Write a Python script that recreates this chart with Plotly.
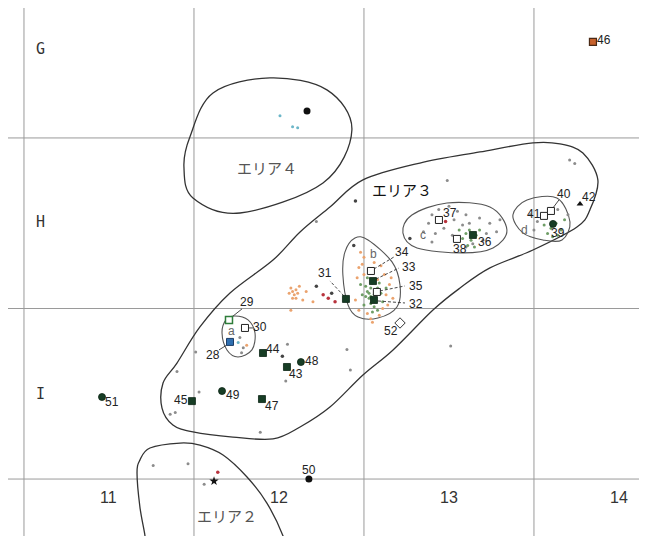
import plotly.graph_objects as go

# ---------------- data (grid units: 1 = one grid square) ----------------
X_RANGE = [-0.094, 3.665]
Y_RANGE = [-0.334, 2.762]

grid_x = [0, 1, 2, 3]
grid_y = [0, 1, 2]
col_labels = ["11", "12", "13", "14"]
col_label_x = [0.5, 1.5, 2.5, 3.5]
row_labels = ["G", "H", "I"]
row_label_y = [2.52, 1.51, 0.50]

# numbered finds
find_id = [28, 29, 30, 31, 32, 33, 34, 35, 36, 37, 38, 39, 40, 41, 42,
           43, 44, 45, 46, 47, 48, 49, 50, 51, 52]
find_x = [1.212, 1.206, 1.300, 1.894, 2.059, 2.053, 2.041, 2.076, 2.641, 2.441,
          2.547, 3.112, 3.100, 3.059, 3.271, 1.547, 1.406, 0.988, 3.347, 1.400,
          1.629, 1.165, 1.676, 0.459, 2.212]
find_y = [0.804, 0.933, 0.886, 1.056, 1.050, 1.161, 1.220, 1.097, 1.431, 1.519,
          1.408, 1.496, 1.572, 1.543, 1.613, 0.657, 0.739, 0.457, 2.563, 0.469,
          0.686, 0.516, 0.000, 0.481, 0.915]
find_kind = ["blue_sq", "green_open_sq", "open_sq", "sq", "sq", "sq", "open_sq", "open_sq",
             "sq", "open_sq", "open_sq", "circ", "open_sq", "open_sq", "tri",
             "sq", "sq", "sq", "orange_sq", "sq", "circ", "circ", "black_circ", "circ", "diamond"]

# unlabeled symbols
extra_x = [1.665, 1.118]
extra_y = [2.158, -0.012]
extra_kind = ["black_circ", "star"]

# small dots
orange_x = [1.57, 1.58, 1.60, 1.59, 1.61, 1.56, 1.60, 1.62, 1.58, 1.64, 1.66, 1.70, 1.57,
            1.97, 2.00, 1.96, 2.12, 2.15, 2.10, 1.95, 2.04, 2.02, 2.13, 2.17, 1.98, 2.06,
            2.16, 1.97, 2.09, 2.00, 2.14, 2.08, 2.11, 1.99, 2.05, 1.31]
orange_y = [1.12, 1.10, 1.11, 1.08, 1.09, 1.09, 1.06, 1.13, 1.06, 1.05, 1.10, 1.04, 0.99,
            1.24, 1.30, 1.18, 1.20, 1.14, 1.25, 1.05, 0.94, 0.97, 1.08, 1.06, 1.33, 1.27,
            1.18, 0.99, 0.96, 1.20, 1.02, 1.17, 1.00, 1.26, 0.92, 0.785]
green_x = [2.02, 2.04, 2.06, 2.03, 2.08, 2.05, 2.01, 2.07, 2.10, 2.04, 1.99, 2.09, 2.02,
           2.06, 2.11, 2.00, 2.03, 2.07, 1.98, 2.05, 2.13, 2.08, 2.01, 2.04,
           2.60, 2.62, 2.66, 2.58, 2.63, 2.68, 2.56, 2.61, 2.65,
           3.10, 3.13, 3.16, 3.08, 3.14, 3.18, 3.06, 3.11]
green_y = [1.10, 1.12, 1.08, 1.06, 1.12, 1.15, 1.13, 1.05, 1.09, 1.03, 1.08, 1.15, 1.18,
           1.01, 1.04, 1.02, 1.09, 1.10, 1.14, 0.98, 1.12, 0.99, 1.07, 1.07,
           1.44, 1.46, 1.43, 1.41, 1.40, 1.46, 1.46, 1.37, 1.36,
           1.47, 1.50, 1.46, 1.44, 1.43, 1.52, 1.49, 1.42]
grey_x = [2.38, 2.40, 2.44, 2.50, 2.55, 2.60, 2.53, 2.58, 2.62, 2.68, 2.74, 2.78, 2.70,
          2.64, 2.52, 2.47, 2.42, 2.35, 2.40, 2.60, 2.72, 2.80,
          2.98, 3.02, 3.00, 3.20, 3.14, 3.21, 3.24, 2.49, 1.72,
          1.90, 1.92, 2.51, 1.01, 0.90, 0.86, 0.89, 1.03, 1.55, 1.54, 1.39,
          0.76, 0.965, 1.06, 1.27, 1.29, 1.28]
grey_y = [1.50, 1.55, 1.58, 1.60, 1.57, 1.55, 1.52, 1.49, 1.50, 1.53, 1.50, 1.45, 1.40,
          1.38, 1.43, 1.47, 1.44, 1.45, 1.39, 1.36, 1.44, 1.52,
          1.55, 1.51, 1.46, 1.55, 1.58, 1.87, 1.85, 1.75, 1.51,
          0.76, 0.64, 0.78, 0.745, 0.63, 0.38, 0.39, 0.51, 0.79, 0.575, 0.275,
          0.08, 0.09, -0.03, 0.83, 0.77, 0.74]
dark_x = [1.72, 1.81, 1.94, 2.27, 1.95, 1.52]
dark_y = [1.13, 1.09, 1.37, 1.41, 1.63, 0.72]
red_x = [1.76, 1.79, 1.83, 2.48, 1.14]
red_y = [1.08, 1.06, 1.04, 1.51, 0.04]
cyan_x = [1.506, 1.58, 1.61, 1.26]
cyan_y = [2.13, 2.065, 2.06, 0.80]

# area outlines
area4_x = [0.941, 0.994, 1.271, 1.759, 1.929, 1.782, 1.447, 1.112, 0.976]
area4_y = [1.830, 1.648, 1.560, 1.736, 2.047, 2.282, 2.352, 2.264, 2.006]
area3_x = [0.818, 0.900, 1.035, 1.212, 1.465, 1.624, 1.800, 1.994, 2.329, 2.682, 2.994,
           3.153, 3.288, 3.376, 3.329, 3.253, 2.994, 2.741, 2.565, 2.406, 2.171, 1.994,
           1.800, 1.624, 1.465, 1.229, 0.994, 0.876, 0.812]
area3_y = [0.563, 0.680, 0.892, 1.091, 1.284, 1.449, 1.595, 1.754, 1.853, 1.918, 1.971,
           1.965, 1.912, 1.754, 1.578, 1.478, 1.343, 1.238, 1.120, 0.991, 0.757, 0.610,
           0.422, 0.305, 0.235, 0.246, 0.276, 0.317, 0.416]
area2_x = [0.715, 0.712, 0.682, 0.665, 0.682, 0.741, 0.918, 1.035, 1.171, 1.312, 1.429, 1.524, 1.53]
area2_y = [-0.40, -0.334, -0.164, 0.035, 0.111, 0.182, 0.211, 0.199, 0.141, 0.012, -0.141, -0.334, -0.40]
sub_a_x = [1.241, 1.318, 1.359, 1.341, 1.259, 1.194, 1.165, 1.188]
sub_a_y = [0.956, 0.933, 0.856, 0.757, 0.716, 0.757, 0.856, 0.933]
sub_b_x = [1.947, 2.024, 2.165, 2.212, 2.194, 2.082, 1.965, 1.906, 1.876, 1.888]
sub_b_y = [1.413, 1.402, 1.273, 1.138, 1.009, 0.944, 0.950, 1.021, 1.196, 1.331]
sub_c_x = [2.229, 2.282, 2.488, 2.741, 2.841, 2.759, 2.582, 2.312]
sub_c_y = [1.443, 1.548, 1.619, 1.595, 1.460, 1.355, 1.326, 1.355]
sub_d_x = [2.876, 2.959, 3.135, 3.212, 3.165, 3.053, 2.935]
sub_d_y = [1.548, 1.636, 1.648, 1.507, 1.402, 1.402, 1.443]

area_labels = ["エリア４", "エリア３", "エリア２"]
area_label_x = [1.43, 2.224, 1.194]
area_label_y = [1.824, 1.70, -0.211]
sub_labels = ["a", "b", "c", "d"]
sub_label_x = [1.218, 2.059, 2.347, 2.945]
sub_label_y = [0.868, 1.32, 1.431, 1.458]

# ---------------- styles ----------------
W, H = 639, 528
PX_X = (X_RANGE[1] - X_RANGE[0]) / W
PX_Y = (Y_RANGE[1] - Y_RANGE[0]) / H
DKGREEN = "#173d25"

kind_style = {
    "sq": dict(symbol="square", size=7, color=DKGREEN, line=dict(color="#0b2414", width=0.8)),
    "circ": dict(symbol="circle", size=7, color=DKGREEN, line=dict(color="#0b2414", width=0.8)),
    "black_circ": dict(symbol="circle", size=7, color="#111111", line=dict(width=0)),
    "open_sq": dict(symbol="square", size=7, color="white", line=dict(color="#222222", width=1)),
    "green_open_sq": dict(symbol="square", size=7, color="white", line=dict(color="#2e7d3a", width=1.5)),
    "blue_sq": dict(symbol="square", size=7, color="#2f6fb0", line=dict(color="#1d3d66", width=1)),
    "orange_sq": dict(symbol="square", size=7, color="#c8622c", line=dict(color="#4a2a16", width=1.2)),
    "tri": dict(symbol="triangle-up", size=6, color="#111111", line=dict(width=0)),
    "diamond": dict(symbol="diamond", size=8, color="white", line=dict(color="#333333", width=1)),
    "star": dict(symbol="star", size=7, color="#111111", line=dict(width=0)),
}

# label offsets in screen pixels (dx right, dy down)
label_offset = {28: (-17, 13), 29: (18, -18), 30: (15, -1), 31: (-21, -26), 32: (42, 4),
                33: (36, -14), 34: (31, -19), 35: (39, -6), 36: (12, 7), 37: (11, -7),
                38: (3, 10), 39: (5, 9), 40: (13, -17), 41: (-10, -2), 42: (9, -7),
                43: (9, 7), 44: (10, -4), 45: (-11, -1), 46: (11, -2), 47: (10, 7),
                48: (11, -1), 49: (11, 4), 50: (0, -9), 51: (10, 5), 52: (-9, 8)}
# leader lines: pixel offsets from the find (start, end), dashed flag
leaders = {28: ((-3, 3), (-11, 8), False), 29: ((3, -3), (13, -11), False),
           30: ((4, 0), (8, 0), False), 31: ((-2, -3), (-16, -18), True),
           32: ((4, 1), (31, 3), True), 33: ((3, -2), (26, -13), True),
           34: ((3, -2), (23, -14), True), 35: ((3, -1), (28, -6), True),
           40: ((2, -3), (8, -11), False)}


def smooth_path(xs, ys, closed=True):
    n = len(xs)
    pts = list(zip(xs, ys))

    def P(i):
        if closed:
            return pts[i % n]
        return pts[max(0, min(n - 1, i))]

    segs = n if closed else n - 1
    d = f"M {pts[0][0]},{pts[0][1]}"
    for i in range(segs):
        p0, p1, p2, p3 = P(i - 1), P(i), P(i + 1), P(i + 2)
        c1 = (p1[0] + (p2[0] - p0[0]) / 6, p1[1] + (p2[1] - p0[1]) / 6)
        c2 = (p2[0] - (p3[0] - p1[0]) / 6, p2[1] - (p3[1] - p1[1]) / 6)
        d += f" C {c1[0]},{c1[1]} {c2[0]},{c2[1]} {p2[0]},{p2[1]}"
    if closed:
        d += " Z"
    return d


fig = go.Figure()
shapes = []

# grid
for gx in grid_x:
    shapes.append(dict(type="line", x0=gx, x1=gx, y0=Y_RANGE[0], y1=Y_RANGE[1],
                       line=dict(color="#9a9a9a", width=1), layer="below"))
for gy in grid_y:
    shapes.append(dict(type="line", x0=X_RANGE[0], x1=X_RANGE[1], y0=gy, y1=gy,
                       line=dict(color="#9a9a9a", width=1), layer="below"))

# outlines
for xs, ys, closed, w, c in [(area4_x, area4_y, True, 1.3, "#333333"),
                             (area3_x, area3_y, True, 1.3, "#333333"),
                             (area2_x, area2_y, False, 1.3, "#333333"),
                             (sub_a_x, sub_a_y, True, 1.1, "#555555"),
                             (sub_b_x, sub_b_y, True, 1.1, "#555555"),
                             (sub_c_x, sub_c_y, True, 1.1, "#555555"),
                             (sub_d_x, sub_d_y, True, 1.1, "#555555")]:
    shapes.append(dict(type="path", path=smooth_path(xs, ys, closed),
                       line=dict(color=c, width=w), layer="below"))

# small dots
for xs, ys, col, sz in [(grey_x, grey_y, "#8c8c8c", 3), (orange_x, orange_y, "#eba36e", 3),
                        (green_x, green_y, "#6f9e66", 3), (dark_x, dark_y, "#444444", 3.5),
                        (red_x, red_y, "#b8333d", 3.5), (cyan_x, cyan_y, "#6cb6c8", 3)]:
    fig.add_trace(go.Scatter(x=xs, y=ys, mode="markers", hoverinfo="skip", showlegend=False,
                             marker=dict(size=sz, color=col, line=dict(width=0))))

# leader lines
for fid, (s, e, dashed) in leaders.items():
    i = find_id.index(fid)
    fig.add_trace(go.Scatter(
        x=[find_x[i] + s[0] * PX_X, find_x[i] + e[0] * PX_X],
        y=[find_y[i] - s[1] * PX_Y, find_y[i] - e[1] * PX_Y],
        mode="lines", hoverinfo="skip", showlegend=False,
        line=dict(color="#333333", width=0.9, dash="3px,2px" if dashed else "solid")))

# symbols
all_x = find_x + extra_x
all_y = find_y + extra_y
all_kind = find_kind + extra_kind
for kind, st in kind_style.items():
    xs = [x for x, k in zip(all_x, all_kind) if k == kind]
    ys = [y for y, k in zip(all_y, all_kind) if k == kind]
    if xs:
        fig.add_trace(go.Scatter(x=xs, y=ys, mode="markers", hoverinfo="skip", showlegend=False,
                                 marker=dict(symbol=st["symbol"], size=st["size"], color=st["color"],
                                             line=st["line"])))

annotations = []
NUM_FONT = dict(family="Liberation Sans Narrow, Arial Narrow, Liberation Sans, Arial", size=12, color="#222222")
for fid, x, y in zip(find_id, find_x, find_y):
    dx, dy = label_offset[fid]
    annotations.append(dict(x=x, y=y, text=str(fid), showarrow=False, xshift=dx, yshift=-dy,
                            font=NUM_FONT))

for t, x in zip(col_labels, col_label_x):
    annotations.append(dict(x=x, y=-0.111, text=t, showarrow=False,
                            font=dict(family="Liberation Sans Narrow, Liberation Sans, Arial", size=16, color="#333333")))
for t, y in zip(row_labels, row_label_y):
    annotations.append(dict(x=0.1, y=y, text=t, showarrow=False,
                            font=dict(family="DejaVu Sans Mono", size=15, color="#333333")))
for t, x, y, c in zip(area_labels, area_label_x, area_label_y, ["#555555", "#111111", "#555555"]):
    annotations.append(dict(x=x, y=y, text=t, showarrow=False,
                            font=dict(family="Noto Sans CJK JP", size=15, color=c)))
for t, x, y in zip(sub_labels, sub_label_x, sub_label_y):
    annotations.append(dict(x=x, y=y, text=t, showarrow=False,
                            font=dict(family="Liberation Sans, Arial", size=12, color="#666666")))

fig.update_layout(
    width=W, height=H, margin=dict(l=0, r=0, t=0, b=0),
    paper_bgcolor="white", plot_bgcolor="white",
    xaxis=dict(range=X_RANGE, visible=False, fixedrange=True),
    yaxis=dict(range=Y_RANGE, visible=False, fixedrange=True),
    shapes=shapes, annotations=annotations, showlegend=False,
)
fig.write_html("out.html")
